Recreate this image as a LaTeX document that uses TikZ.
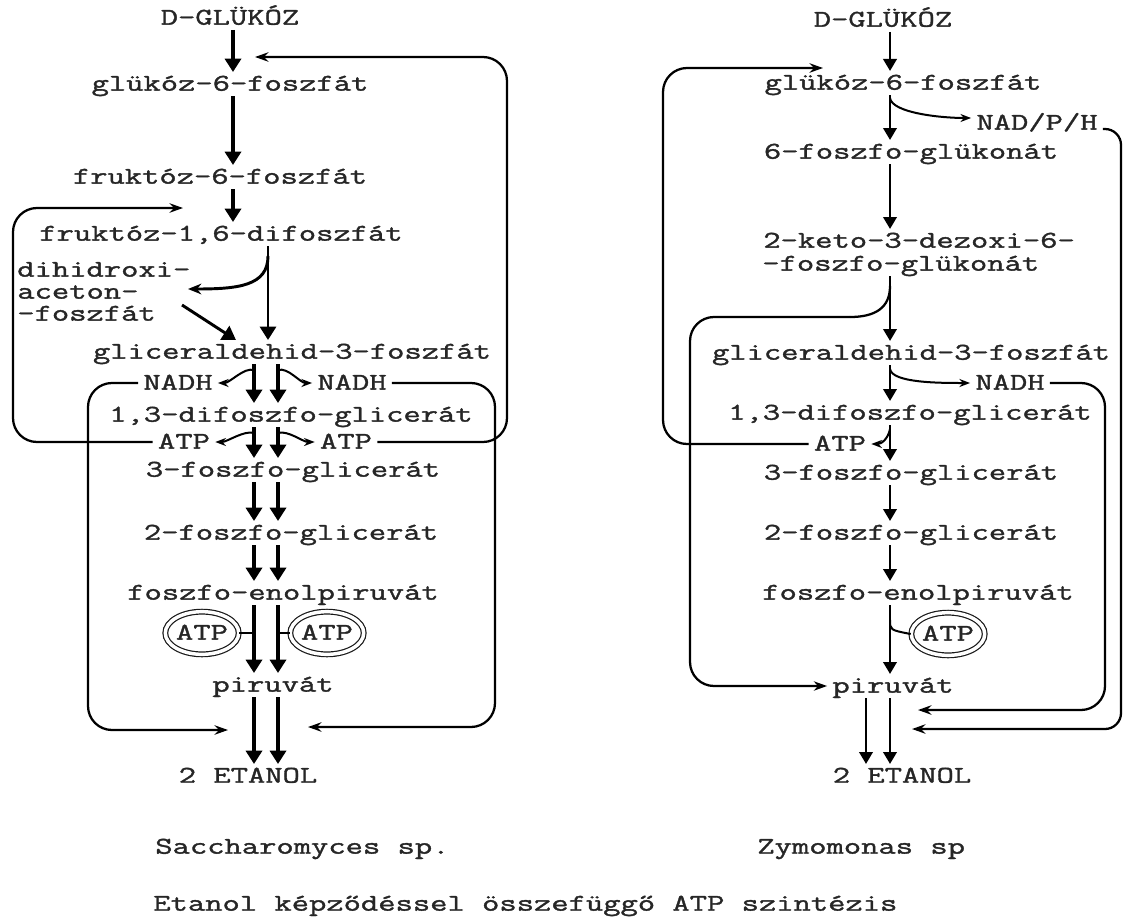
\documentclass[tikz,border=0pt]{standalone}
\usepackage{fontspec}
\newfontfamily\tw{Latin Modern Mono}[FakeStretch=1.4,FakeBold=1.5]
\usetikzlibrary{arrows.meta,shapes.geometric,calc}
\begin{document}
\begin{tikzpicture}[x=0.75pt,y=-0.75pt,
  lbl/.style={font=\tw\fontsize{18}{14}\selectfont, inner sep=0pt, outer sep=4pt, text height=10pt, text depth=0pt, text=black!85},
  ring/.style={ellipse, draw=black!90, line width=0.9pt, double=white, double distance=2.6pt, minimum width=55pt, minimum height=32pt, inner sep=0pt, font=\tw\fontsize{18}{14}\selectfont, text height=10pt, text depth=0pt, text=black!85},
  bigarr/.style={line width=3pt, -{Triangle[length=10pt,width=12pt]}},
  midarr/.style={line width=2pt, -{Triangle[length=9pt,width=10pt]}},
  brarr/.style={line width=1.5pt, -{Stealth[length=8pt,width=6pt]}},
  loopline/.style={line width=1.7pt, rounded corners=18pt, -{Stealth[length=10pt,width=7pt]}}
]
\useasboundingbox (0,0) rectangle (1126,917);
\fill[white] (0,0) rectangle (1126,917);

% column positions
\coordinate (cL) at (233,0);
\coordinate (cA) at (268,0);
\coordinate (cD) at (236,0);
\coordinate (cLa) at (254,0);
\coordinate (cLb) at (278,0);
\coordinate (cR) at (890,0);
\coordinate (cRa) at (866,0);

% ---------------- left: Saccharomyces ----------------
\node[lbl] (Lglu) at (230,18) {D-GLÜKÓZ};
\node[lbl] (Lg6p) at (230,84) {glükóz-6-foszfát};
\node[lbl] (Lf6p) at (220,177) {fruktóz-6-foszfát};
\node[lbl] (Lfdp) at (221,234) {fruktóz-1,6-difoszfát};
\node[lbl,anchor=west] (Ldh1) at (12,270) {dihidroxi-};
\node[lbl,anchor=west] (Ldh2) at (12,292) {aceton-};
\node[lbl,anchor=west] (Ldh3) at (12,314) {-foszfát};
\node[lbl] (Lgap) at (292,352) {gliceraldehid-3-foszfát};
\node[lbl] (LnadhL) at (178,383) {NADH};
\node[lbl] (LnadhR) at (352,383) {NADH};
\node[lbl] (Lbpg) at (291,415) {1,3-difoszfo-glicerát};
\node[lbl] (LatpL) at (184,442) {ATP};
\node[lbl] (LatpR) at (346,442) {ATP};
\node[lbl] (L3pg) at (293,470) {3-foszfo-glicerát};
\node[lbl] (L2pg) at (291,533) {2-foszfo-glicerát};
\node[lbl] (Lpep) at (283,593) {foszfo-enolpiruvát};
\node[ring] (LatpE1) at (202,633) {ATP};
\node[ring] (LatpE2) at (327,633) {ATP};
\node[lbl] (Lpyr) at (273,685) {piruvát};
\node[lbl] (Leth) at (248,776) {2 ETANOL};

\draw[bigarr] (Lglu.south -| cL) -- (Lg6p.north -| cL);
\draw[bigarr] (Lg6p.south -| cL) -- (Lf6p.north -| cL);
\draw[bigarr] (Lf6p.south -| cL) -- (Lfdp.north -| cL);
\draw[bigarr, line width=2.2pt] (Lfdp.south -| cA) -- (Lgap.north -| cA);
\coordinate (dhB) at (188,289);
\draw[line width=2.2pt, -{Stealth[length=10pt,width=8pt]}] ($(Lfdp.south -| cA)+(0,10)$) .. controls +(0,30) and +(50,0) .. (dhB);
\coordinate (dhA) at (182,305);
\draw[bigarr, line width=2.2pt] (dhA) -- (Lgap.north -| cD);

\foreach \c in {cLa,cLb} {
  \draw[bigarr] (Lgap.south -| \c) -- (Lbpg.north -| \c);
  \draw[bigarr] (Lbpg.south -| \c) -- (L3pg.north -| \c);
  \draw[bigarr] (L3pg.south -| \c) -- (L2pg.north -| \c);
  \draw[bigarr] (L2pg.south -| \c) -- (Lpep.north -| \c);
  \draw[bigarr] (Lpep.south -| \c) -- (Lpyr.north -| \c);
  \draw[bigarr] (Lpyr.south -| \c) -- (Leth.north -| \c);
}
\draw[brarr] ($(Lgap.south -| cLa)+(0,6)$) .. controls +(-10,-3) and +(12,0) .. (LnadhL.east);
\draw[brarr] ($(Lgap.south -| cLb)+(0,6)$) .. controls +(10,-3) and +(-12,0) .. (LnadhR.west);
\draw[brarr] ($(Lbpg.south -| cLa)+(0,6)$) .. controls +(-10,-3) and +(12,0) .. (LatpL.east);
\draw[brarr] ($(Lbpg.south -| cLb)+(0,6)$) .. controls +(10,-3) and +(-12,0) .. (LatpR.west);
\draw[line width=1.5pt] (LatpE1.east) -- (LatpE1.east -| cLa);
\draw[line width=1.5pt] (LatpE2.west) -- (LatpE2.west -| cLb);

\coordinate (lX1) at (495,0); \coordinate (lB1) at (308,727);
\draw[loopline] (LnadhR.east) -- (LnadhR.east -| lX1) -- (lX1 |- lB1) -- (lB1);
\coordinate (lX2) at (507,0); \coordinate (lT1) at (255,57);
\draw[loopline] (LatpR.east) -- (LatpR.east -| lX2) -- (lX2 |- lT1) -- (lT1);
\coordinate (lX3) at (88,0); \coordinate (lB2) at (228,730);
\draw[loopline] (LnadhL.west) -- (LnadhL.west -| lX3) -- (lX3 |- lB2) -- (lB2);
\coordinate (lX4) at (13,0); \coordinate (lT2) at (183,208);
\draw[loopline] (LatpL.west) -- (LatpL.west -| lX4) -- (lX4 |- lT2) -- (lT2);

% ---------------- right: Zymomonas ----------------
\node[lbl] (Rglu) at (883,20) {D-GLÜKÓZ};
\node[lbl] (Rg6p) at (903,83) {glükóz-6-foszfát};
\node[lbl] (Rnadp) at (1037,123) {NAD/P/H};
\node[lbl] (R6pg) at (911,152) {6-foszfo-glükonát};
\node[lbl,anchor=west] (Rk1) at (758,241) {2-keto-3-dezoxi-6-};
\node[lbl,anchor=west] (Rk2) at (757,264) {-foszfo-glükonát};
\node[lbl] (Rgap) at (911,353) {gliceraldehid-3-foszfát};
\node[lbl] (Rnadh) at (1010,383) {NADH};
\node[lbl] (Rbpg) at (910,413) {1,3-difoszfo-glicerát};
\node[lbl] (Ratp) at (840,444) {ATP};
\node[lbl] (R3pg) at (911,473) {3-foszfo-glicerát};
\node[lbl] (R2pg) at (911,533) {2-foszfo-glicerát};
\node[lbl] (Rpep) at (918,593) {foszfo-enolpiruvát};
\node[ring] (RatpE) at (948,634) {ATP};
\node[lbl] (Rpyr) at (893,686) {piruvát};
\node[lbl] (Reth) at (902,776) {2 ETANOL};

\draw[midarr] (Rglu.south -| cR) -- (Rg6p.north -| cR);
\draw[midarr] (Rg6p.south -| cR) -- (R6pg.north -| cR);
\draw[midarr] (R6pg.south -| cR) -- (Rk1.north -| cR);
\draw[midarr] (Rk2.south -| cR) -- (Rgap.north -| cR);
\draw[midarr] (Rgap.south -| cR) -- (Rbpg.north -| cR);
\draw[midarr] (Rbpg.south -| cR) -- (R3pg.north -| cR);
\draw[midarr] (R3pg.south -| cR) -- (R2pg.north -| cR);
\draw[midarr] (R2pg.south -| cR) -- (Rpep.north -| cR);
\draw[midarr] (Rpep.south -| cR) -- (Rpyr.north -| cR);
\draw[midarr] (Rpyr.south -| cRa) -- (Reth.north -| cRa);
\draw[midarr] (Rpyr.south -| cR) -- (Reth.north -| cR);

\draw[brarr] ($(Rg6p.south -| cR)+(0,3)$) .. controls +(2,15) and +(-30,0) .. ($(Rnadp.west)+(0,-5)$);
\draw[brarr] ($(Rgap.south -| cR)+(0,4)$) .. controls +(2,14) and +(-30,0) .. (Rnadh.west);
\draw[brarr] ($(Rbpg.south -| cR)+(0,4)$) .. controls +(-2,10) and +(10,0) .. (Ratp.east);
\draw[line width=1.5pt] ($(Rpep.south -| cR)+(0,15)$) .. controls +(0,10) .. (RatpE.west);

\coordinate (rK) at (850,317); \coordinate (rX0) at (690,0);
\draw[line width=1.7pt] ($(Rk2.south -| cR)+(0,10)$) .. controls +(0,22) and +(25,0) .. (rK);
\draw[loopline] (rK) -- (rK -| rX0) -- (rX0 |- Rpyr.west) -- (Rpyr.west);
\coordinate (rX1) at (663,0); \coordinate (rT) at (823,68);
\draw[loopline] (Ratp.west) -- (Ratp.west -| rX1) -- (rX1 |- rT) -- (rT);
\coordinate (rX2) at (1105,0); \coordinate (rB1) at (918,710);
\draw[loopline] (Rnadh.east) -- (Rnadh.east -| rX2) -- (rX2 |- rB1) -- (rB1);
\coordinate (rX3) at (1121,0); \coordinate (rB2) at (912,729);
\draw[loopline, rounded corners=12pt] ($(Rnadp.east)+(0,6)$) -- ($(Rnadp.east -| rX3)+(0,6)$) -- (rX3 |- rB2) -- (rB2);

% ---------------- captions ----------------
\node[lbl,anchor=west] (Csac) at (150,847) {Saccharomyces sp.};
\node[lbl,anchor=west] (Czym) at (752,847) {Zymomonas sp};
\node[lbl,anchor=west] (Ctit) at (148,904) {Etanol képződéssel összefüggő ATP szintézis};
\end{tikzpicture}
\end{document}
